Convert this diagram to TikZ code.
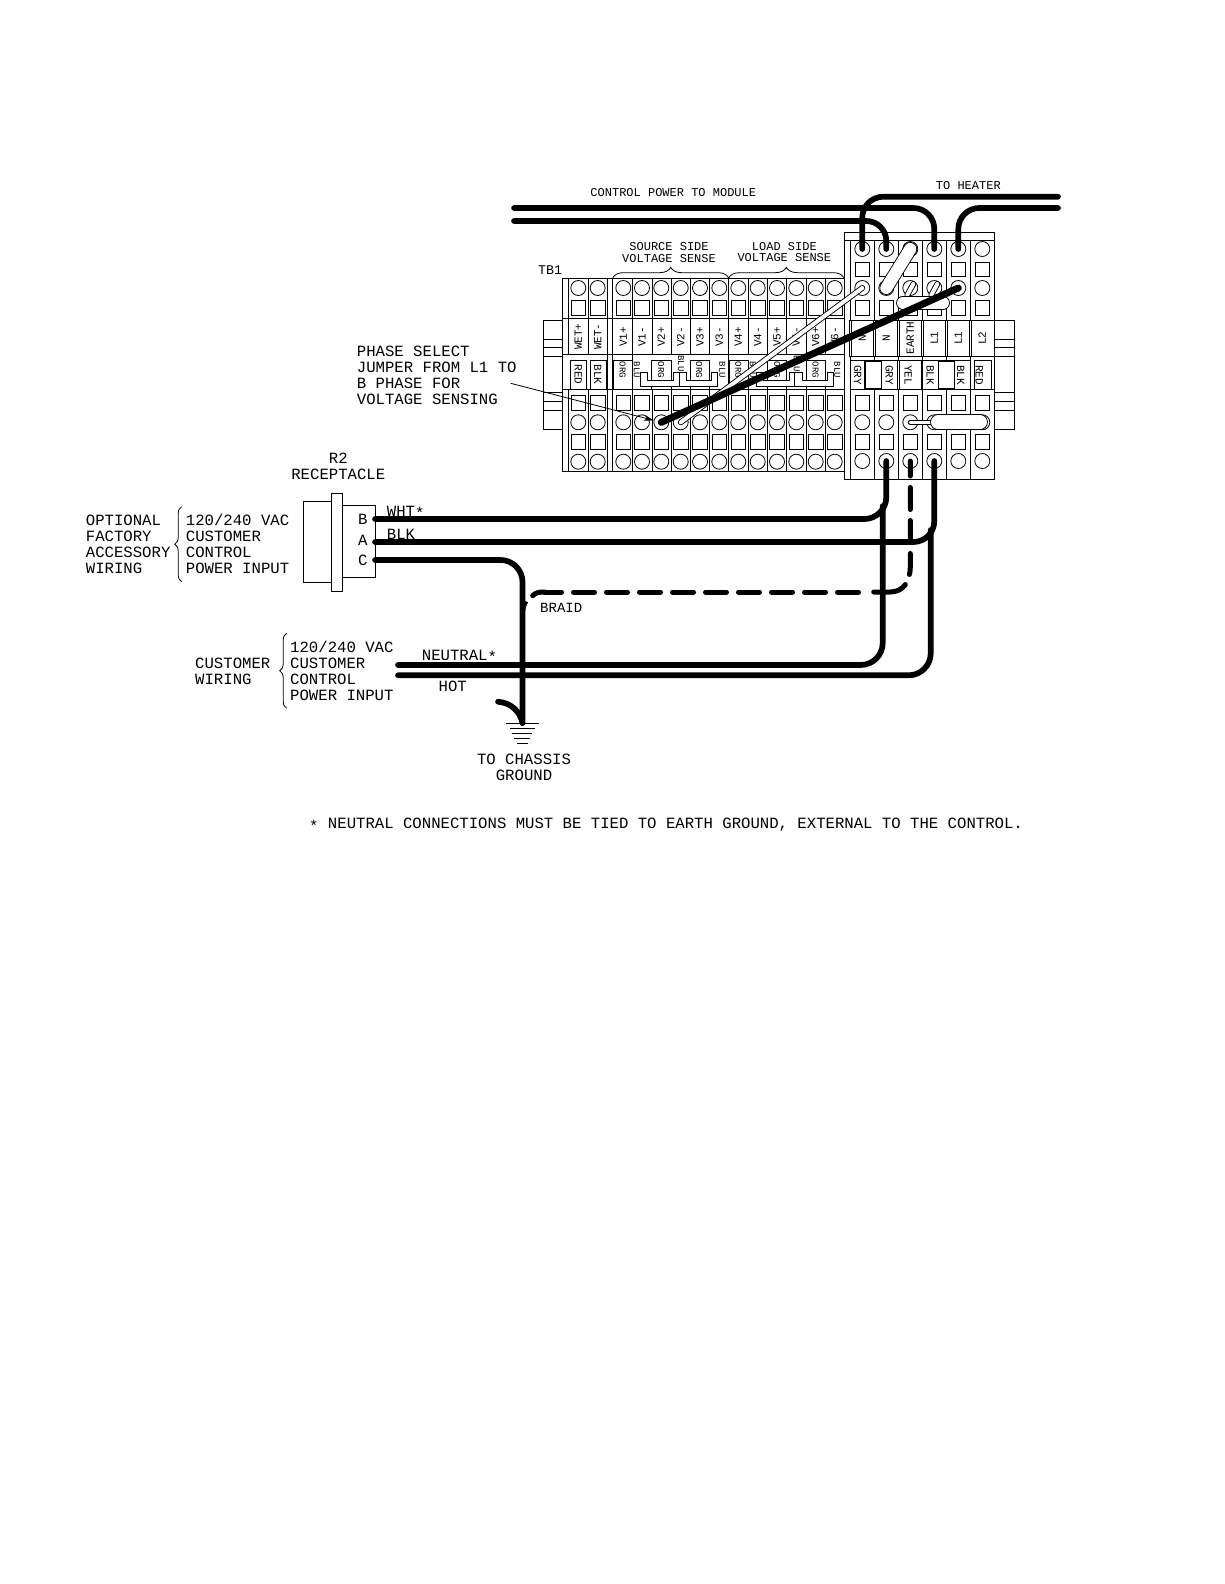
\documentclass[tikz,border=0pt]{standalone}
\usepackage{fontspec}
\setmainfont{Liberation Mono}
\usetikzlibrary{calc, positioning, shapes, decorations.pathreplacing, arrows, arrows.meta}
\tikzset{
	termhole/.style={draw, circle, fill=white, minimum size=15pt, inner sep=0pt, line width=0.8pt},
	termsq/.style={draw, rectangle, fill=white, minimum size=14.7pt, inner sep=0pt, line width=0.8pt},
	thin line/.style={line width=0.8pt},
	wire/.style={line width=5.7pt, line cap=round},
	braidwire/.style={line width=5pt, line cap=round, dash pattern=on 21pt off 12pt},
	pill/.style={draw=black, double=white, line width=0.9pt, line cap=round},
	bigtext/.style={font=\fontsize{15.65}{16}\selectfont, align=left, inner sep=0pt},
	midtext/.style={font=\fontsize{12}{11.5}\selectfont, align=center, inner sep=0pt},
	tblabel/.style={font=\fontsize{11}{11}\selectfont, inner sep=0pt},
	tagtext/.style={font=\fontsize{9}{9}\selectfont, inner sep=0pt},
	bracetop/.style={thin line, decorate, decoration={brace, amplitude=10.7pt, aspect=0.5}},
	braceleft/.style={thin line, decorate, decoration={brace, amplitude=7pt, aspect=0.5}}
}
\newcommand\tbcol[3]{\node[termhole] (#1c) at (#2,288) {};\node[termsq] (#1p) at (#2,308) {};\node[termsq] (#1q) at (#2,403) {};\node[termhole] (#1b) at (#2,422.3) {};\node[termsq] (#1r) at (#2,441.7) {};\node[termhole] (#1f) at (#2,461.7) {};\node[tblabel, rotate=90] (#1u) at (#2,336.7) {#3};}
\newcommand\rbcol[3]{\node[termhole] (#1a) at (#2,249) {};\node[termsq] (#1o) at (#2,269.3) {};\node[termhole] (#1c) at (#2,288) {};\node[termsq] (#1p) at (#2,308) {};\node[termsq] (#1q) at (#2,403) {};\node[termhole] (#1d) at (#2,422.3) {};\node[termsq] (#1r) at (#2,441.7) {};\node[termhole] (#1f) at (#2,461) {};\node[tblabel, rotate=90] (#1u) at (#2,338) {#3};}
\newcommand\tbtag[4]{\node[tagtext, rotate=-90] (#1) at (#2,#3) {#4};}
\newcommand\bigtag[4]{\node[tblabel, rotate=-90] (#1) at (#2,#3) {#4};}
\newcommand\mountblock[2]{\draw[thin line] (#1,320.3) rectangle (#2,429.3);\foreach \yy in {339.3,347.5,356,392.5,401.5,410}{\draw[thin line] (#1,\yy) -- (#2,\yy);}}
\newcommand\phaselink[1]{\draw[thin line, fill=white, xshift=#1pt] (640.7,372.3) -- (647.3,372.3) -- (647.3,380) -- (673.3,380) -- (673.3,372.3) -- (686.7,372.3) -- (686.7,380) -- (711.7,380) -- (711.7,372.3) -- (717.3,372.3) -- (717.3,386.7) -- (640.7,386.7) -- cycle;\draw[thin line, xshift=#1pt] (679,372.3) -- (679,386.7);}
\newcommand\tagbox[2]{\draw[thin line] (#1,360.7) rectangle (#2,389.3);}
\newcommand\starmark{\smash{\raisebox{-2.5pt}{*}}}

\begin{document}
\begin{tikzpicture}[x=1pt, y=-1pt]
	\path[use as bounding box, fill=white] (0,0) rectangle (1224,1584);

	% mounting ends
	\mountblock{543.7}{562.7}
	\mountblock{994.3}{1014.3}

	% TB1 body, low voltage part
	\draw[thin line] (562.7,278) rectangle (844.3,471);
	\foreach \xx in {568.3,588.3,632.3,652.3,671.3,690.3,709.7,748.3,767.3,786.7,806,825}{
		\draw[thin line] (\xx,278) -- (\xx,354.3);
		\draw[thin line] (\xx,389.3) -- (\xx,471);
	}
	\foreach \xx in {607.3,612.7,632.3,728.7}{
		\draw[thin line] (\xx,278) -- (\xx,471);
	}
	\foreach \yy in {318.3,354.3,389.3}{
		\draw[thin line] (562.7,\yy) -- (844.3,\yy);
	}
	\tagbox{570}{586.7}
	\tagbox{590}{606.7}
	\tagbox{613}{632.3}
	\tagbox{651.7}{671.3}
	\tagbox{690.3}{709.7}
	\tagbox{729.5}{748.3}
	\tagbox{767.3}{786.7}
	\tagbox{806}{825}
	\phaselink{0}
	\phaselink{115.7}

	\tbcol{wp}{578.3}{WET+}
	\tbcol{wm}{597.7}{WET-}
	\tbcol{va}{623.3}{V1+}
	\tbcol{vb}{642}{V1-}
	\tbcol{vc}{661.3}{V2+}
	\tbcol{vd}{680.7}{V2-}
	\tbcol{ve}{700}{V3+}
	\tbcol{vf}{719.3}{V3-}
	\tbcol{vg}{738.3}{V4+}
	\tbcol{vh}{757.7}{V4-}
	\tbcol{vi}{777}{V5+}
	\tbcol{vj}{796.3}{V5-}
	\tbcol{vk}{815.7}{V6+}
	\tbcol{vl}{834.7}{V6-}

	\bigtag{tagred}{578.3}{374.5}{RED}
	\bigtag{tagblk}{597.7}{374.5}{BLK}
	\tbtag{tagsa}{622.5}{370}{ORG}
	\tbtag{tagsb}{636.7}{370}{BLU}
	\tbtag{tagsc}{661}{370}{ORG}
	\tbtag{tagsd}{681}{363.3}{BLU}
	\tbtag{tagse}{699}{370}{ORG}
	\tbtag{tagsf}{722.3}{370}{BLU}
	\tbtag{tagla}{738.3}{370}{ORG}
	\tbtag{taglb}{752.7}{370}{BLU}
	\tbtag{taglc}{777}{370}{ORG}
	\tbtag{tagld}{796.7}{363.3}{BLU}
	\tbtag{tagle}{815.7}{370}{ORG}
	\tbtag{taglf}{837.3}{370}{BLU}

	% TB1 body, power part
	\draw[thin line, fill=white] (844.3,232.3) rectangle (994.3,479.3);
	\draw[thin line] (844.3,240.7) -- (994.3,240.7);
	\foreach \xx in {850.3,874.3,898.3,922.3,946.3,970.3}{
		\draw[thin line] (\xx,240.7) -- (\xx,320);
		\draw[thin line] (\xx,389.3) -- (\xx,479.3);
		\draw[thin line] (\xx,356.7) -- (\xx,360.7);
		\draw[thin line] ($(\xx,320)+(-1.2,0)$) -- ($(\xx,356.7)+(-1.2,0)$);
		\draw[thin line] ($(\xx,320)+(1.2,0)$) -- ($(\xx,356.7)+(1.2,0)$);
	}
	\foreach \yy in {320,356.7,389.3}{
		\draw[thin line] (850.3,\yy) -- (994.3,\yy);
	}
	\tagbox{850}{897.7}
	\tagbox{899}{921}
	\tagbox{922.7}{970}
	\tagbox{974}{991.7}
	\rbcol{ra}{862.3}{N}
	\rbcol{rb}{886.3}{N}
	\rbcol{rc}{910.3}{EARTH}
	\rbcol{rd}{934.3}{L1}
	\rbcol{re}{958.3}{L1}
	\rbcol{rf}{982.3}{L2}
	\draw[line width=1.4pt, fill=white] (865,361.2) rectangle (881.7,388.8);
	\draw[line width=1.4pt, fill=white] (938.3,361.2) rectangle (954.3,388.8);
	\bigtag{taggya}{857.7}{375}{GRY}
	\bigtag{taggyb}{889.3}{375}{GRY}
	\bigtag{tagyel}{908.3}{375}{YEL}
	\bigtag{tagbka}{930.3}{375}{BLK}
	\bigtag{tagbkb}{960.7}{375}{BLK}
	\bigtag{tagrd}{979.3}{375}{RED}

	% jumpers
	\draw[pill, double distance=4pt] (rcc.center) ++(3,-4) -- ++(-6,11);
	\draw[pill, double distance=4pt] (rdc.center) ++(3,-4) -- ++(-6,11);
	\coordinate (pilla) at (903,302.7);
	\coordinate (pillb) at (943,302.7);
	\coordinate (pillc) at (938,422.3);
	\coordinate (pilld) at (980,422.3);
	\draw[pill, double distance=12pt] (rca.center) -- (rbc.center);
	\draw[pill, double distance=12pt] (pilla) -- (pillb);
	\draw[pill, double distance=3.5pt] (rcd.center) -- (pillc);
	\draw[pill, double distance=14pt] (pillc) -- (pilld);
	\draw[pill, double distance=4pt] (rac.center) -- (vdb.center);
	\draw[line width=7pt, line cap=round] (rec.center) -- (vcb.center);

	% control power and heater
	\coordinate (cpwa) at (514,208);
	\coordinate (cpwb) at (514,221);
	\coordinate (htra) at (1058,196.7);
	\coordinate (htrb) at (1058,208);
	\draw[wire, rounded corners=21pt] (cpwa) -| (rda.center);
	\draw[wire, rounded corners=20pt] (cpwb) -| (rba.center);
	\draw[wire, rounded corners=21pt] (htra) -| (raa.center);
	\draw[wire, rounded corners=21pt] (htrb) -| (rea.center);

	% receptacle
	\draw[thin line] (303.3,501.3) rectangle (331.7,582.3);
	\draw[thin line] (331.7,493.3) rectangle (342.3,591.7);
	\draw[thin line] (342.3,505.3) rectangle (375.3,577.3);
	\coordinate (pinb) at (375,519);
	\coordinate (pina) at (375,542);
	\coordinate (pinc) at (375,560);
	\coordinate (neutw) at (398,665);
	\coordinate (hotw) at (398,675.3);
	\coordinate (neute) at (882.7,506);
	\coordinate (hote) at (930.7,530);
	\coordinate (gnd) at (522.5,723);
	\coordinate (hooka) at (498,701.7);
	\coordinate (hookb) at (526.7,601.7);
	\coordinate (hookc) at (523,620);
	\coordinate (braida) at (532.7,595.7);
	\coordinate (braidb) at (858.5,592);
	\coordinate (braidc) at (545,592);
	\coordinate (braidd) at (870.5,592);

	% field wiring
	\draw[wire, rounded corners=22pt] (pinb) -| (rbf.center);
	\draw[wire, rounded corners=21pt] (pina) -| (rdf.center);
	\draw[wire, rounded corners=22pt] (pinc) -| (gnd);
	\draw[wire, rounded corners=22pt] (neutw) -| (neute);
	\draw[wire, rounded corners=22pt] (hotw) -| (hote);
	\draw[wire] (hooka) .. controls (512,703) and (520,712) .. (gnd);
	\draw[line width=3pt] (hookb) .. controls (524,606) and (523,612) .. (hookc);
	\draw[braidwire] (braidb) -- (braidc);
	\draw[wire, line width=5pt] (braida) .. controls (535,593) and (538,592) .. (braidc);
	\draw[braidwire, dash pattern=on 15pt off 11.5pt on 22pt off 11pt on 22pt off 11pt on 21pt off 11pt on 34pt off 50pt] (rcf.center) -- (910.3,566) .. controls (910.3,582) and (903,592) .. (890,592) -- (braidd);

	% chassis ground
	\draw[thin line] (506,723.3) -- (539,723.3);
	\draw[thin line] (510,728.3) -- (535,728.3);
	\draw[thin line] (512.3,733.3) -- (532.3,733.3);
	\draw[thin line] (514,738.3) -- (530,738.3);
	\draw[thin line] (517.3,743.3) -- (527.7,743.3);

	% braces
	\draw[bracetop] (612.7,278) -- (728.7,278);
	\draw[bracetop] (728.7,278) -- (844,278);
	\draw[braceleft] (181.7,581.7) -- (181.7,506.7);
	\draw[braceleft] (286.7,708.3) -- (286.7,633.3);

	% texts
	\node[midtext] (cpwtxt) at (673.3,192.7) {CONTROL POWER TO MODULE};
	\node[midtext] (htrtxt) at (968.3,185.7) {TO HEATER};
	\node[midtext] (srctxt) at (669,252.6) {SOURCE SIDE\\VOLTAGE SENSE};
	\node[midtext] (loadtxt) at (784.3,252) {LOAD SIDE\\VOLTAGE SENSE};
	\node[bigtext, font=\fontsize{13.3}{14}\selectfont, anchor=west] (tbtxt) at (538,270) {TB1};
	\node[bigtext, anchor=west] (phasetxt) at (356.7,375.3) {PHASE SELECT\\JUMPER FROM L1 TO\\B PHASE FOR\\VOLTAGE SENSING};
	\coordinate (phasetip) at (510.7,383.3);
	\draw[thin line, -{Stealth[length=10pt, width=6pt]}] (phasetip) -- (vcb);
	\node[bigtext, align=center] (r2txt) at (338.3,466.2) {R2\\RECEPTACLE};
	\node[bigtext, anchor=west] (opttxt) at (85.7,544) {OPTIONAL\\FACTORY\\ACCESSORY\\WIRING};
	\node[bigtext, anchor=west] (inatxt) at (185.7,544) {120/240 VAC\\CUSTOMER\\CONTROL\\POWER INPUT};
	\node[bigtext, anchor=west] (custxt) at (195,671.3) {CUSTOMER\\WIRING};
	\node[bigtext, anchor=west] (inbtxt) at (290,670.7) {120/240 VAC\\CUSTOMER\\CONTROL\\POWER INPUT};
	\node[bigtext] (pinbtxt) at (362.7,519) {B};
	\node[bigtext] (pinatxt) at (362.7,540) {A};
	\node[bigtext] (pinctxt) at (362.7,560) {C};
	\node[bigtext, anchor=west] (whttxt) at (386.7,511) {WHT\starmark};
	\node[bigtext, anchor=west] (blktxt) at (386.7,534.3) {BLK};
	\node[bigtext, anchor=west] (neuttxt) at (421.7,655) {NEUTRAL\starmark};
	\node[bigtext] (hottxt) at (452.7,686.7) {HOT};
	\node[midtext, font=\fontsize{14}{14}\selectfont, anchor=west] (braidtxt) at (540,608) {BRAID};
	\node[bigtext, align=center] (gndtxt) at (524,767.5) {TO CHASSIS\\GROUND};
	\node[bigtext, anchor=west] (notetxt) at (309,825) {\starmark{} NEUTRAL CONNECTIONS MUST BE TIED TO EARTH GROUND, EXTERNAL TO THE CONTROL.};
\end{tikzpicture}
\end{document}
